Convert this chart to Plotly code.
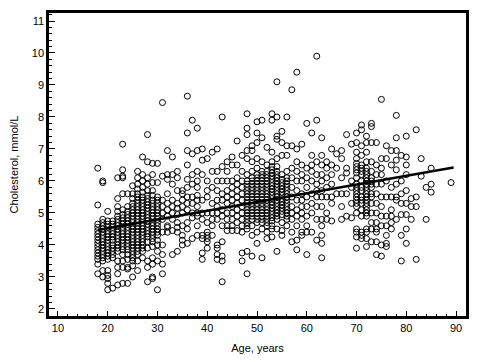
import plotly.graph_objects as go

# Cholesterol (mmol/L), grouped by age (years)
group_18_29 = {
    18: [6.4, 5.25, 4.65, 4.55, 4.45, 4.35, 4.25, 4.15, 4.05, 3.95, 3.85, 3.75, 3.65, 3.55, 3.4, 3.1],
    19: [6.0, 5.95, 4.8, 4.7, 4.6, 4.5, 4.4, 4.3, 4.2, 4.1, 4.0, 3.9, 3.8, 3.7, 3.6, 3.5, 3.2, 3.0],
    20: [5.05, 4.75, 4.65, 4.55, 4.45, 4.35, 4.25, 4.15, 4.05, 3.95, 3.85, 3.75, 3.65, 3.55, 3.2, 3.05, 2.95, 2.8, 2.6],
    21: [4.75, 4.65, 4.55, 4.45, 4.35, 4.25, 4.15, 4.0, 3.9, 3.8, 3.7, 3.6, 2.65],
    22: [6.1, 5.45, 5.2, 5.05, 4.9, 4.8, 4.7, 4.6, 4.5, 4.4, 4.3, 4.2, 4.1, 4.0, 3.9, 3.8, 3.5, 3.3, 3.1, 2.75],
    23: [7.15, 6.35, 6.15, 6.1, 5.6, 5.1, 4.95, 4.85, 4.75, 4.65, 4.55, 4.45, 4.35, 4.25, 4.15, 4.05, 3.95, 3.85, 3.7, 3.5, 3.3, 2.8],
    24: [5.6, 5.2, 5.05, 4.95, 4.85, 4.75, 4.65, 4.55, 4.45, 4.35, 4.25, 4.15, 4.05, 3.95, 3.85, 3.7, 3.55, 3.3, 3.25, 2.8],
    25: [5.85, 5.6, 5.45, 5.3, 5.2, 5.1, 5.0, 4.9, 4.8, 4.7, 4.6, 4.5, 4.4, 4.3, 4.2, 4.1, 4.0, 3.9, 3.8, 3.7, 3.6, 3.5, 3.35, 3.0],
    26: [6.3, 6.1, 5.9, 5.75, 5.6, 5.5, 5.4, 5.3, 5.2, 5.1, 5.0, 4.9, 4.8, 4.7, 4.6, 4.5, 4.4, 4.3, 4.2, 4.1, 4.0, 3.9, 3.8, 3.7, 3.5, 3.2],
    27: [6.75, 6.2, 6.0, 5.8, 5.65, 5.5, 5.4, 5.3, 5.2, 5.1, 5.0, 4.9, 4.8, 4.7, 4.6, 4.5, 4.4, 4.3, 4.2, 4.1, 4.0, 3.9, 3.8, 3.6],
    28: [7.45, 6.6, 6.1, 5.9, 5.7, 5.55, 5.45, 5.35, 5.25, 5.15, 5.05, 4.95, 4.85, 4.75, 4.65, 4.55, 4.45, 4.35, 4.25, 4.1, 3.9, 3.5, 3.3, 2.85],
    29: [6.55, 6.2, 5.95, 5.7, 5.55, 5.4, 5.3, 5.2, 5.1, 5.0, 4.9, 4.8, 4.7, 4.6, 4.5, 4.4, 4.3, 4.2, 4.1, 3.95, 3.6, 3.4, 3.0, 2.95],
}
group_30_44 = {
    30: [6.55, 5.95, 5.5, 5.4, 5.3, 5.2, 5.1, 5.0, 4.9, 4.8, 4.7, 4.6, 4.5, 4.4, 4.3, 4.15, 4.0, 3.8, 3.5, 2.6],
    31: [8.45, 6.15, 5.4, 5.2, 5.0, 4.8, 4.4, 4.0, 3.7, 3.4, 3.1],
    32: [6.95, 6.2, 6.05, 5.6, 5.3, 5.1, 4.9, 4.6, 4.55, 4.4],
    33: [6.75, 6.2, 5.9, 5.4, 5.2, 5.0, 4.8, 4.45, 3.7],
    34: [6.3, 6.1, 5.7, 5.3, 5.15, 4.95, 4.7, 4.55, 4.4, 3.8],
    35: [5.7, 5.6, 5.4, 5.2, 5.0, 4.6, 4.3, 4.15, 4.0],
    36: [8.65, 7.5, 6.95, 6.5, 6.05, 5.8, 5.5, 5.3, 5.1, 4.7, 4.5, 4.05],
    37: [7.9, 6.85, 6.2, 5.9, 5.5, 5.3, 5.0, 4.85, 4.2],
    38: [7.65, 6.95, 6.3, 6.0, 5.8, 5.55, 5.4, 5.2, 5.0, 4.9, 4.6, 4.3],
    39: [7.0, 6.65, 6.2, 5.4, 5.0, 4.8, 4.3, 4.2, 3.75, 3.55],
    40: [6.7, 6.0, 5.7, 5.5, 5.0, 4.7, 4.4, 4.3, 4.2, 4.1, 3.9],
    41: [6.9, 6.3, 5.8, 5.3, 5.0, 4.8, 4.6, 4.3],
    42: [7.0, 6.3, 6.0, 5.7, 5.4, 5.2, 5.0, 4.8, 4.0, 3.9, 3.7, 3.55],
    43: [8.0, 6.45, 6.0, 5.6, 5.4, 5.1, 4.9, 4.6, 4.1, 3.65, 3.5, 2.85],
    44: [6.6, 6.3, 6.0, 5.7, 5.5, 5.3, 5.0, 4.8, 4.6, 4.45],
}
group_45_59 = {
    45: [6.75, 6.5, 6.0, 5.8, 5.6, 5.4, 5.2, 5.0, 4.8, 4.6, 4.45],
    46: [7.25, 6.5, 6.1, 5.9, 5.7, 5.5, 5.3, 5.1, 4.9, 4.7, 4.45],
    47: [6.8, 6.3, 6.0, 5.8, 5.6, 5.4, 5.2, 5.0, 4.8, 4.6, 4.4, 3.75, 3.5],
    48: [8.1, 7.65, 7.45, 6.95, 6.7, 6.2, 6.0, 5.9, 5.8, 5.7, 5.6, 5.5, 5.4, 5.3, 5.2, 5.1, 5.0, 4.9, 4.8, 4.7, 4.6, 4.5, 3.8, 3.1],
    49: [7.1, 6.95, 6.6, 6.3, 6.1, 6.0, 5.9, 5.8, 5.7, 5.6, 5.5, 5.4, 5.3, 5.2, 5.1, 5.0, 4.9, 4.8, 4.6, 4.3, 3.65],
    50: [7.85, 7.5, 7.2, 6.7, 6.4, 6.2, 6.1, 6.0, 5.9, 5.8, 5.7, 5.6, 5.5, 5.4, 5.3, 5.2, 5.1, 5.0, 4.9, 4.8, 4.7, 4.4, 4.05],
    51: [7.9, 7.35, 6.6, 6.3, 6.2, 6.1, 6.0, 5.9, 5.8, 5.7, 5.6, 5.5, 5.4, 5.3, 5.2, 5.1, 5.0, 4.9, 4.8, 4.7, 4.5, 3.6],
    52: [7.05, 6.5, 6.3, 6.2, 6.1, 6.0, 5.9, 5.8, 5.7, 5.6, 5.5, 5.4, 5.3, 5.2, 5.1, 5.0, 4.9, 4.8, 4.7, 4.6, 4.4, 4.2],
    53: [8.1, 7.9, 6.9, 6.6, 6.45, 6.35, 6.25, 6.15, 6.05, 5.95, 5.85, 5.75, 5.65, 5.55, 5.45, 5.35, 5.25, 5.15, 5.05, 4.95, 4.85, 4.75, 4.6, 4.5, 4.25],
    54: [9.1, 8.0, 7.4, 7.3, 6.7, 6.45, 6.3, 6.2, 6.1, 6.0, 5.9, 5.8, 5.7, 5.6, 5.5, 5.4, 5.3, 5.2, 5.1, 5.0, 4.9, 4.8, 4.5, 3.8],
    55: [7.55, 7.2, 6.8, 6.2, 6.05, 5.95, 5.85, 5.75, 5.65, 5.55, 5.45, 5.35, 5.25, 5.15, 5.05, 4.95, 4.7, 4.45, 4.3],
    56: [8.0, 7.1, 6.8, 6.3, 6.1, 6.0, 5.9, 5.8, 5.7, 5.6, 5.5, 5.4, 5.3, 5.2, 5.1, 5.0, 4.9, 4.8, 4.6],
    57: [8.85, 7.1, 6.4, 6.1, 5.8, 5.5, 5.2, 5.0, 4.8, 4.4, 4.1],
    58: [9.4, 7.0, 6.6, 6.3, 6.0, 5.7, 5.4, 5.1, 4.9, 4.6, 4.15, 3.85],
    59: [7.15, 6.5, 6.2, 6.0, 5.6, 5.4, 5.2, 5.0, 4.8, 4.4, 4.3],
}
group_60_74 = {
    60: [7.8, 6.4, 6.1, 5.8, 5.5, 5.2, 4.9, 4.6, 4.4, 3.7],
    61: [7.5, 6.8, 6.5, 6.3, 6.0, 5.6, 5.3, 5.0, 4.4],
    62: [9.9, 7.9, 6.6, 6.2, 5.9, 5.7, 5.5, 5.2, 4.8, 4.15],
    63: [7.35, 6.8, 6.5, 6.2, 6.0, 5.7, 5.5, 5.2, 4.8, 4.6, 4.3, 4.05, 3.6],
    64: [6.6, 6.4, 6.1, 5.8, 5.5, 5.0, 4.8],
    65: [7.0, 6.5, 6.2, 5.9, 5.5, 5.3, 4.75],
    66: [6.85, 6.4, 5.6],
    67: [6.95, 6.7, 6.1, 5.6, 5.2, 4.8],
    68: [7.45, 6.4, 6.25, 5.6, 4.9],
    69: [7.15, 6.0, 5.8, 5.3, 4.85],
    70: [7.5, 7.2, 6.9, 6.7, 6.55, 6.45, 6.35, 6.25, 6.1, 5.9, 5.8, 5.7, 5.6, 5.5, 5.4, 5.3, 5.2, 5.0, 4.5, 4.4, 4.25, 3.9],
    71: [7.75, 7.6, 7.1, 6.8, 6.5, 6.4, 6.3, 6.2, 6.0, 5.8, 5.7, 5.5, 5.4, 5.3, 5.1, 4.9, 4.4, 4.3, 4.2],
    72: [7.4, 7.2, 6.9, 6.6, 6.4, 6.3, 6.2, 6.1, 6.0, 5.9, 5.8, 5.7, 5.6, 5.5, 5.4, 5.3, 5.2, 5.1, 5.0, 4.9, 4.5, 4.4, 4.2, 3.95],
    73: [7.8, 7.7, 7.2, 6.6, 6.3, 6.1, 6.0, 5.9, 5.8, 5.6, 5.5, 5.3, 5.0, 4.7, 4.5, 4.1],
    74: [7.2, 6.5, 6.2, 5.9, 5.6, 5.3, 5.0, 4.7, 4.5, 4.4, 4.1, 3.7],
}
group_75_89 = {
    75: [8.55, 6.7, 6.4, 6.2, 5.9, 5.5, 5.2, 4.9, 4.6, 4.0, 3.65],
    76: [7.1, 6.7, 6.0, 5.5, 4.9, 4.6, 4.3, 4.05, 3.95],
    77: [6.95, 6.5, 5.8, 5.5, 5.1, 4.9, 4.7, 4.5],
    78: [8.05, 7.35, 6.95, 6.65, 6.35, 5.9, 5.5, 5.4, 4.8],
    79: [6.8, 6.0, 5.6, 5.3, 4.95, 4.3, 3.5],
    80: [7.4, 6.75, 6.5, 6.2, 5.7, 5.3, 4.95, 4.5, 4.05],
    81: [5.45, 5.2, 4.8],
    82: [7.6, 5.5, 5.2, 3.55],
    83: [6.7, 6.15],
    84: [5.8, 4.8],
    85: [6.4, 5.9, 5.65],
    89: [5.95],
}

# Regression line endpoints
fit_age = [18, 89.5]
fit_chol = [4.47, 6.42]

ages, chol = [], []
for grp in (group_18_29, group_30_44, group_45_59, group_60_74, group_75_89):
    for a, vals in grp.items():
        for v in vals:
            ages.append(a)
            chol.append(v)

fig = go.Figure()
fig.add_trace(go.Scatter(
    x=ages, y=chol, mode="markers",
    marker=dict(symbol="circle-open", size=6, color="black", line=dict(width=1, color="black")),
    showlegend=False, hoverinfo="x+y",
))
fig.add_trace(go.Scatter(
    x=fit_age, y=fit_chol, mode="lines",
    line=dict(color="black", width=2.5), showlegend=False,
))

font = dict(family="Liberation Sans, Arial, sans-serif", size=11, color="black")
fig.update_layout(
    width=483, height=362,
    margin=dict(l=49, r=17, t=13, b=46),
    paper_bgcolor="white", plot_bgcolor="white",
    font=font,
)
fig.update_xaxes(
    range=[8.2, 92.0], tickmode="array", tickvals=[10, 20, 30, 40, 50, 60, 70, 80, 90],
    ticks="inside", ticklen=5, tickwidth=1, tickcolor="black",
    minor=dict(ticks="inside", ticklen=2, dtick=2, tick0=0, tickcolor="black"),
    showline=True, linewidth=2.5, linecolor="black", mirror=True,
    showgrid=False, zeroline=False, automargin=False,
    title=dict(text="Age, years", font=font, standoff=12),
)
fig.update_yaxes(
    range=[1.78, 11.25], tickmode="array", tickvals=[2, 3, 4, 5, 6, 7, 8, 9, 10, 11],
    ticks="inside", ticklen=6, tickwidth=1, tickcolor="black",
    minor=dict(ticks="inside", ticklen=3, dtick=0.2, tick0=0, tickcolor="black"),
    showline=True, linewidth=2.5, linecolor="black", mirror=True,
    showgrid=False, zeroline=False, automargin=False,
    title=dict(text="Cholesterol, mmol/L", font=font, standoff=11),
)

fig.write_html(
    "out.html",
    config={"displayModeBar": False},
    post_script="document.body.style.margin='0';document.body.style.overflow='hidden';",
)
